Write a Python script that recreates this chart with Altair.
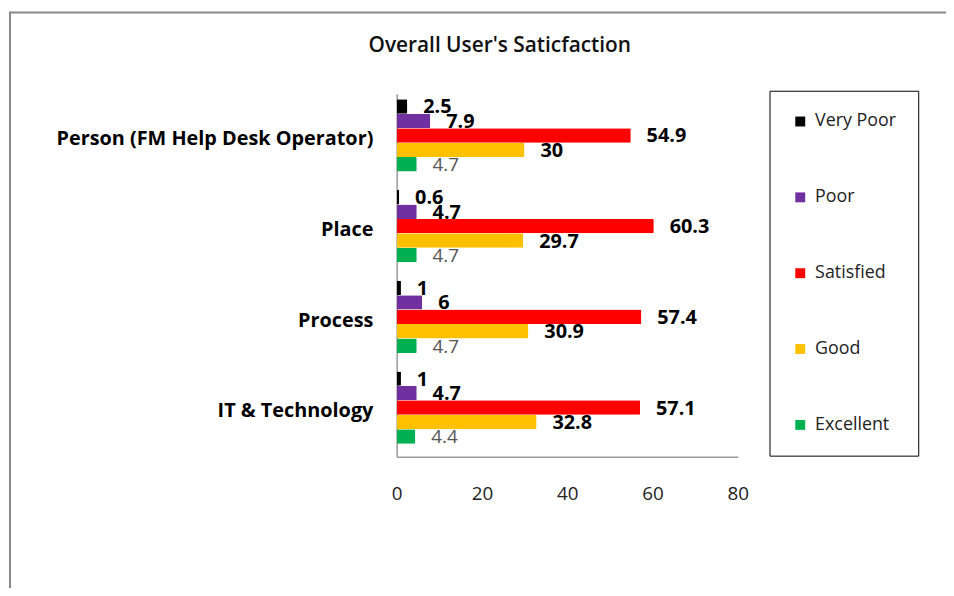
import altair as alt
import pandas as pd

categories = ["Person (FM Help Desk Operator)", "Place", "Process", "IT & Technology"]
series = ["Very Poor", "Poor", "Satisfied", "Good", "Excellent"]
colors = ["#000000", "#7030A0", "#FF0000", "#FFC000", "#00B050"]
values = {
    "Very Poor": [2.5, 0.6, 1, 1],
    "Poor": [7.9, 4.7, 6, 4.7],
    "Satisfied": [54.9, 60.3, 57.4, 57.1],
    "Good": [30, 29.7, 30.9, 32.8],
    "Excellent": [4.7, 4.7, 4.7, 4.4],
}
x_ticks = [0, 20, 40, 60, 80]
title_text = "Overall User's Saticfaction"

rows = []
for s in series:
    for c, v in zip(categories, values[s]):
        rows.append({"category": c, "series": s, "value": v,
                     "label": f"{v:g}", "bold": s != "Excellent"})
df = pd.DataFrame(rows)

W, H = 344, 366
FONT = "Open Sans"

y_enc = alt.Y("category:N", sort=categories,
              scale=alt.Scale(paddingInner=0.1, paddingOuter=0.05),
              axis=alt.Axis(title=None, labelFont=FONT, labelFontSize=20,
                            labelFontWeight="bold", labelColor="#000",
                            labelLimit=500, labelPadding=24, ticks=False,
                            domain=True, domainColor="#999", domainWidth=1.5))
yoff = alt.YOffset("series:N", sort=series,
                   scale=alt.Scale(paddingInner=0, paddingOuter=0.32, align=0.1))
x_enc = alt.X("value:Q", scale=alt.Scale(domain=[0, 80], nice=False),
              axis=alt.Axis(title=None, values=x_ticks, grid=False, ticks=False,
                            labelFlush=False,
                            labelFont=FONT, labelFontSize=19, labelColor="#222",
                            labelPadding=28, domainColor="#999", domainWidth=1.5))

bars = alt.Chart(df).mark_bar(cornerRadiusEnd=1).encode(
    x=x_enc, y=y_enc, yOffset=yoff,
    color=alt.Color("series:N", sort=series,
                    scale=alt.Scale(domain=series, range=colors),
                    legend=alt.Legend(title=None, orient="none", legendX=376,
                                      legendY=-3, direction="vertical",
                                      symbolType="square", symbolSize=100,
                                      symbolStrokeWidth=0, symbolOpacity=1,
                                      labelFont=FONT, labelFontSize=18, labelColor="#222",
                                      rowPadding=58.5, padding=22,
                                      strokeColor="#000", labelOffset=6)),
)

text_bold = alt.Chart(df[df["bold"]]).mark_text(
    align="left", baseline="middle", dx=16, dy=1, font=FONT, fontSize=20,
    fontWeight="bold", color="#000").encode(
    x="value:Q", y=alt.Y("category:N", sort=categories), yOffset=yoff, text="label:N")
text_norm = alt.Chart(df[~df["bold"]]).mark_text(
    align="left", baseline="middle", dx=16, dy=1, font=FONT, fontSize=19,
    color="#555").encode(
    x="value:Q", y=alt.Y("category:N", sort=categories), yOffset=yoff, text="label:N")

frame = alt.Chart(pd.DataFrame({"a": [0]})).mark_rect(
    fillOpacity=0, stroke="#888", strokeWidth=2).encode(
    x=alt.value(-390), x2=alt.value(W + 300), y=alt.value(-82), y2=alt.value(H + 200))

title = alt.Chart(pd.DataFrame({"t": [title_text]})).mark_text(
    font=FONT, fontSize=21, fontWeight=600, color="#111", align="center",
    baseline="middle").encode(
    x=alt.value(104), y=alt.value(-48), text="t:N")

chart = alt.layer(frame, title, bars, text_bold, text_norm).properties(
    width=W, height=H,
    padding={"left": 392, "top": 84, "right": 210, "bottom": 130},
    autosize=alt.AutoSizeParams(type="none"),
).configure_view(stroke=None)

chart.save("out.html", embed_options={"renderer": "svg", "actions": False})
